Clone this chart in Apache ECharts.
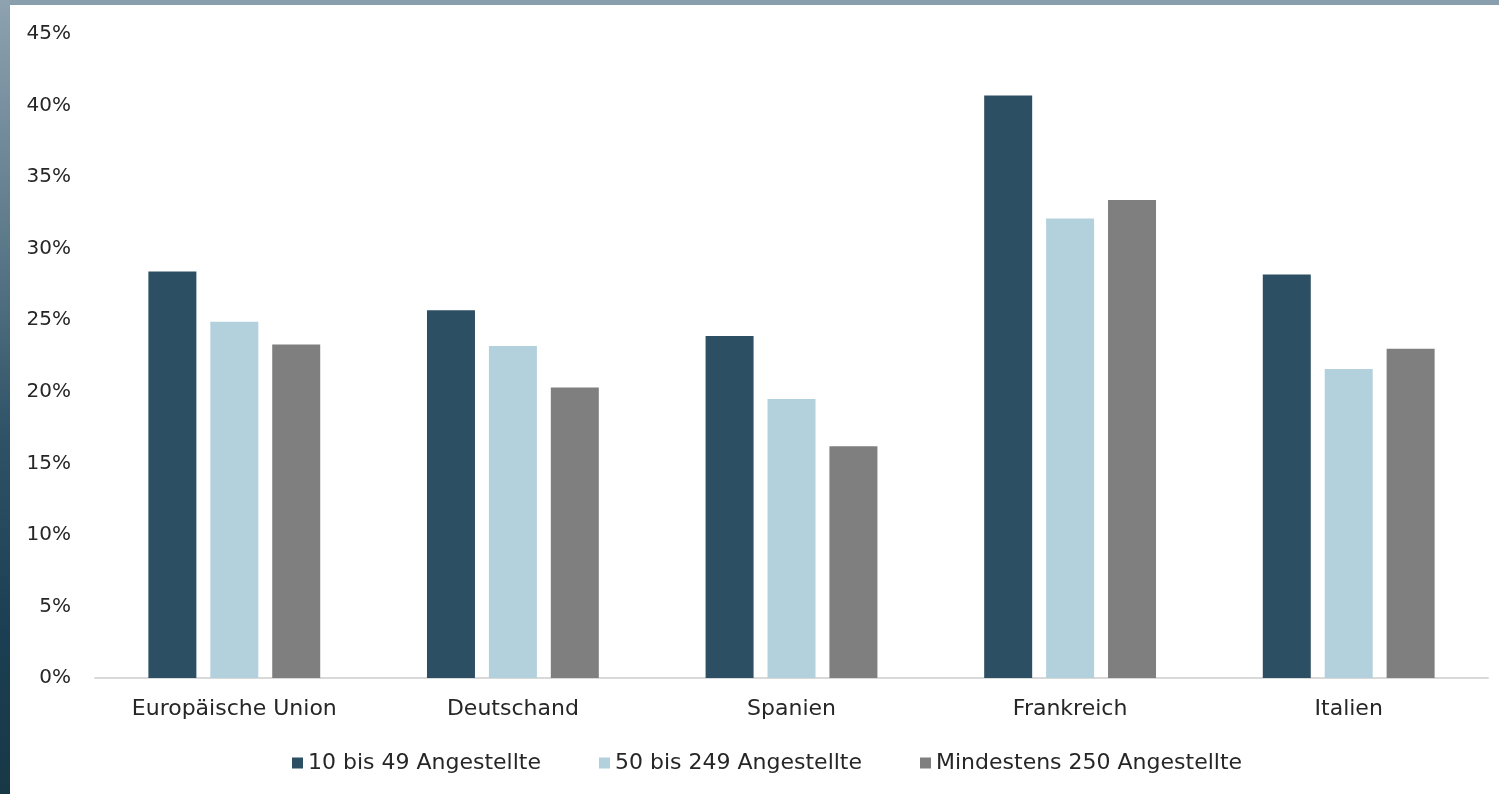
<!DOCTYPE html>
<html>
<head>
<meta charset="utf-8">
<title>Anteil nach Unternehmensgröße</title>
<script src="https://cdn.jsdelivr.net/npm/echarts@6/dist/echarts.min.js"></script>
<style>
  html, body { margin: 0; padding: 0; background: #ffffff; }
  #chart { width: 1499px; height: 794px; }
</style>
</head>
<body>
<div id="chart"></div>
<script>
// Länder / Regionen
const categories = ['Europäische Union', 'Deutschand', 'Spanien', 'Frankreich', 'Italien'];

// Anteile in Prozent je Unternehmensgröße
const seriesNames = ['10 bis 49 Angestellte', '50 bis 249 Angestellte', 'Mindestens 250 Angestellte'];
const small  = [28.4, 25.7, 23.9, 40.7, 28.2];
const medium = [24.9, 23.2, 19.5, 32.1, 21.6];
const large  = [23.3, 20.3, 16.2, 33.4, 23.0];

// Achse: 0 % bis 45 % in 5er-Schritten
const yMin = 0, yMax = 45, yStep = 5;

const colors = ['#2c4f63', '#b2d1dc', '#7f7f7f'];
const font = '"DejaVu Sans", sans-serif';
const textColor = '#262626';

const chart = echarts.init(document.getElementById('chart'), null, { renderer: 'canvas' });

const values = [small, medium, large];

chart.setOption({
  animation: false,
  backgroundColor: '#ffffff',
  color: colors,
  textStyle: { fontFamily: font },
  graphic: [
    // Rahmenstreifen oben und links
    {
      type: 'rect', left: 0, top: 0, z: -1,
      shape: { width: 1499, height: 5 },
      style: { fill: '#8a9fad' }
    },
    {
      type: 'rect', left: 0, top: 0, z: -1,
      shape: { width: 10, height: 794 },
      style: {
        fill: {
          type: 'linear', x: 0, y: 0, x2: 0, y2: 1,
          colorStops: [
            { offset: 0, color: '#8ea2b0' },
            { offset: 0.3, color: '#5d7a8b' },
            { offset: 0.55, color: '#2f5266' },
            { offset: 0.8, color: '#1b3e52' },
            { offset: 1, color: '#183847' }
          ]
        }
      }
    }
  ],
  grid: { left: 95, right: 11, top: 34, bottom: 116, containLabel: false },
  legend: {
    top: 747,
    left: 287,
    itemWidth: 11,
    itemHeight: 11,
    itemGap: 58,
    icon: 'rect',
    textStyle: { fontSize: 22, color: textColor, fontFamily: font },
    data: seriesNames
  },
  xAxis: {
    type: 'category',
    data: categories,
    axisTick: { show: false },
    axisLine: { lineStyle: { color: '#d9d9d9', width: 2 } },
    axisLabel: { fontSize: 22, color: textColor, margin: 20, fontFamily: font }
  },
  yAxis: {
    type: 'value',
    min: yMin,
    max: yMax,
    interval: yStep,
    splitLine: { show: false },
    axisLine: { show: false },
    axisTick: { show: false },
    axisLabel: {
      fontSize: 20, color: textColor, margin: 24, fontFamily: font,
      formatter: v => v + '%'
    }
  },
  series: seriesNames.map((name, i) => ({
    name: name,
    type: 'bar',
    data: values[i],
    barWidth: 48,
    barGap: '29%',
    itemStyle: { color: colors[i] }
  }))
});
</script>
</body>
</html>
